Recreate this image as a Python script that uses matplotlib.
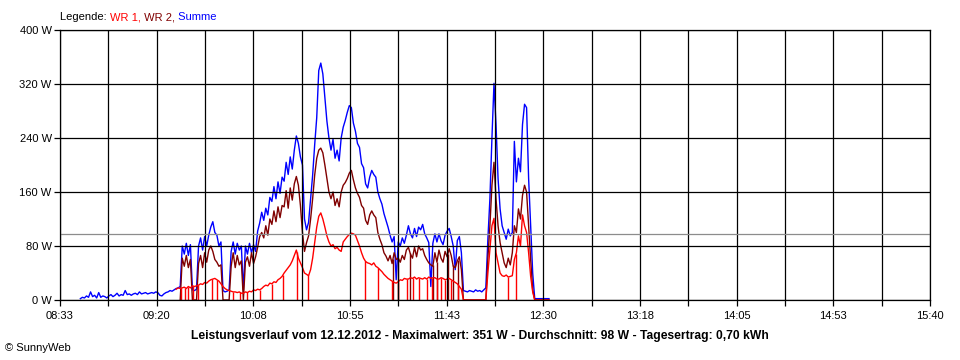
import numpy as np
import matplotlib
matplotlib.use("Agg")
import matplotlib.pyplot as plt

plt.rcParams['font.family'] = ['Liberation Sans', 'DejaVu Sans']

# ---------------- data ----------------
axis_start = "08:33"
axis_end = "15:40"
x_tick_labels = ["08:33", "09:20", "10:08", "10:55", "11:43",
                 "12:30", "13:18", "14:05", "14:53", "15:40"]
y_ticks = [0, 80, 160, 240, 320, 400]
sample_minutes = 1  # one reading per minute

# Summe (blue), first reading 08:43
summe_start = "08:43"
summe = [
    2, 4, 3, 6, 4, 12, 5, 7, 3, 11,
    4, 6, 5, 3, 6, 8, 5, 7, 10, 6,
    8, 7, 14, 8, 9, 7, 9, 10, 8, 12,
    9, 10, 11, 9, 10, 11, 10, 12, 11, 7,
    6, 9, 11, 12, 14, 13, 15, 17, 18, 20,
    80, 68, 84, 66, 82, 15, 14, 16, 80, 92,
    74, 94, 80, 96, 108, 116, 100, 96, 80, 86,
    14, 12, 13, 15, 72, 86, 68, 84, 74, 80,
    15, 80, 68, 84, 70, 82, 72, 102, 114, 130,
    118, 136, 126, 152, 146, 168, 150, 175, 158, 182,
    176, 204, 186, 212, 194, 222, 243, 232, 212, 200,
    120, 104, 115, 150, 185, 230, 270, 340, 351, 335,
    300, 265, 240, 222, 238, 210, 222, 206, 240, 256,
    266, 278, 288, 285, 262, 250, 232, 226, 202, 196,
    172, 166, 182, 192, 186, 182, 160, 150, 142, 128,
    118, 108, 96, 86, 94, 30, 86, 80, 92, 84,
    96, 110, 98, 92, 106, 94, 108, 104, 112, 98,
    92, 85, 20, 84, 98, 86, 98, 88, 82, 96,
    102, 106, 94, 80, 45, 88, 94, 70, 14, 13,
    12, 14, 13, 12, 15, 13, 14, 12, 15, 18,
    90, 150, 240, 321, 260, 180, 135, 110, 100, 90,
    105, 95, 100, 235, 175, 210, 190, 260, 290, 285,
    180, 110, 40, 2, 2, 2, 2, 2, 2, 2, 2,
]

# WR 1 (red), first reading 09:30
wr1_start = "09:30"
wr1 = [
    16, 18, 17,
    18, 19, 17, 20, 18, 21, 20, 21, 22, 24,
    23, 26, 25, 28, 30, 31, 32, 30, 28, 24,
    20, 17, 15, 14, 13, 12, 12, 11, 12, 10,
    10, 12, 11, 13, 12, 15, 14, 16, 15, 17,
    20, 22, 21, 25, 24, 27, 26, 30, 32, 35,
    40, 44, 48, 52, 58, 66, 74, 62, 55, 48,
    40, 38, 36, 45, 62, 85, 108, 124, 129, 120,
    108, 95, 86, 80, 82, 76, 78, 74, 72, 86,
    90, 94, 97, 99, 98, 96, 88, 80, 70, 62,
    57, 55, 54, 52, 55, 50, 48, 45, 42, 38,
    35, 32, 30, 28, 26, 25, 27, 30, 29, 32,
    31, 31, 33, 32, 34, 31, 33, 32, 31, 33,
    31, 34, 32, 33, 33, 31, 31, 33, 32, 30,
    31, 32, 30, 28, 26, 24, 20, 16, 0, 0,
    0, 0, 0, 0, 0, 0, 0, 0, 0, 0,
    40, 75, 110, 121, 70, 55, 40, 36, 35, 37,
    34, 35, 36, 60, 70, 95, 80, 126, 110, 100,
    70, 35, 12, 0, 0, 0, 0, 0, 0, 0, 0,
]
# short drop-outs of WR 1 to 0 W
wr1_dropouts = [
    "09:32:24", "09:34:18", "09:35:48", "09:38:18", "09:40:42", "09:47:36",
    "09:50:06", "09:57:54", "10:01:18", "10:04:48", "10:11:12", "10:17:00",
    "10:22:24", "10:29:18", "10:34:42", "11:02:42", "11:09:06", "11:15:54",
    "11:18:54", "11:23:18", "11:26:18", "11:29:12", "11:33:06", "11:35:36",
    "11:38:00", "11:40:00", "11:42:00", "11:44:54", "11:48:18", "12:12:54",
    "12:16:48",
]

# WR 2 (dark red), first reading 09:32
wr2_start = "09:32"
wr2 = [
    0,
    62, 50, 66, 48, 60, 0, 0, 0, 54, 66,
    48, 70, 56, 74, 80, 72, 60, 56, 50, 52,
    0, 0, 0, 0, 50, 70, 48, 66, 52, 58,
    0, 56, 64, 50, 70, 54, 64, 78, 94, 100,
    92, 110, 96, 120, 112, 132, 116, 138, 122, 140,
    138, 162, 136, 166, 148, 172, 183, 170, 140, 100,
    72, 85, 95, 120, 150, 185, 210, 222, 225, 218,
    200, 180, 160, 150, 160, 140, 150, 138, 160, 170,
    174, 180, 188, 192, 178, 166, 158, 152, 140, 136,
    118, 112, 126, 132, 126, 122, 100, 90, 82, 70,
    65, 58, 66, 54, 70, 60, 62, 56, 66, 60,
    74, 78, 68, 62, 78, 64, 80, 74, 76, 66,
    60, 55, 52, 50, 70, 56, 74, 62, 56, 72,
    64, 76, 66, 50, 48, 58, 64, 45, 0, 0,
    0, 0, 0, 0, 0, 0, 0, 0, 0, 0,
    62, 110, 170, 204, 150, 110, 85, 70, 55, 48,
    62, 52, 70, 110, 100, 135, 120, 155, 170, 160,
    110, 60, 15, 0, 0, 0, 0, 0, 0, 0, 0,
]
wr2_dropouts = [
    "11:16:24", "11:18:54", "11:24:48", "11:36:06", "11:38:00",
    "11:43:24", "11:45:54", "11:48:18",
]

average_w = 98
title_text = ("Leistungsverlauf vom 12.12.2012 - Maximalwert: 351 W - "
              "Durchschnitt: 98 W - Tagesertrag: 0,70 kWh")

# ---------------- helpers ----------------
def to_min(s):
    parts = [int(p) for p in s.split(":")]
    while len(parts) < 3:
        parts.append(0)
    return parts[0] * 60 + parts[1] + parts[2] / 60.0

t0 = to_min(axis_start)
t_end = to_min(axis_end)

def times_for(start, vals):
    return to_min(start) - t0 + sample_minutes * np.arange(len(vals))

C_WR1 = "#ff0000"
C_WR2 = "#800000"
C_SUM = "#0000ff"
LW = 1.0

fig = plt.figure(figsize=(9.6, 3.6), dpi=100)
fig.patch.set_facecolor("white")
ax = fig.add_axes([60 / 960, 60 / 360, 870 / 960, 270 / 360])

def draw_series(start, vals, drops, color, z):
    t = times_for(start, vals)
    ax.plot(t, vals, color=color, lw=LW, zorder=z)
    if drops:
        td = np.array([to_min(s) - t0 for s in drops])
        ax.vlines(td, 0, np.interp(td, t, vals), color=color, lw=LW, zorder=z)

draw_series(summe_start, summe, [], C_SUM, 1.0)
draw_series(wr2_start, wr2, wr2_dropouts, C_WR2, 1.1)
draw_series(wr1_start, wr1, wr1_dropouts, C_WR1, 1.2)

span = t_end - t0
ax.set_xlim(0, span)
ax.set_ylim(0, 400)

n_major = len(x_tick_labels)
grid_x = np.linspace(0, span, 2 * (n_major - 1) + 1)
labels = [x_tick_labels[i // 2] if i % 2 == 0 else "" for i in range(len(grid_x))]
ax.set_xticks(grid_x)
ax.set_xticklabels(labels)
ax.set_yticks(y_ticks)
ax.set_yticklabels([f"{v} W" for v in y_ticks])

for gx in grid_x:
    ax.axvline(gx, color="black", lw=0.9, zorder=3)
for gy in y_ticks:
    ax.axhline(gy, color="black", lw=0.9, zorder=3)
ax.axhline(average_w, color="#8c8c8c", lw=0.9, zorder=3)

ax.tick_params(axis="both", direction="out", length=4, width=0.9,
               colors="black", labelsize=8)
ax.tick_params(axis="x", pad=4)
ax.tick_params(axis="y", pad=2)
for sp in ax.spines.values():
    sp.set_color("black")
    sp.set_linewidth(0.9)
    sp.set_zorder(3.5)

# legend text in pieces
fig.canvas.draw()
renderer = fig.canvas.get_renderer()
pieces = [("Legende: ", "black"), ("WR 1,", C_WR1), (" WR 2,", C_WR2), (" Summe", C_SUM)]
x = 60 / 960
for txt, col in pieces:
    t = fig.text(x, 1 - 17 / 360, txt, color=col, fontsize=8, va="center", ha="left")
    bb = t.get_window_extent(renderer=renderer)
    x = bb.x1 / fig.bbox.width

fig.text(0.5, 1 - 336 / 360, title_text, ha="center", va="center",
         fontsize=8.7, fontweight="bold")
fig.text(5 / 960, 1 - 348 / 360, "\u00a9 SunnyWeb", ha="left", va="center", fontsize=8)

fig.savefig("out.png", dpi=100, facecolor="white")
